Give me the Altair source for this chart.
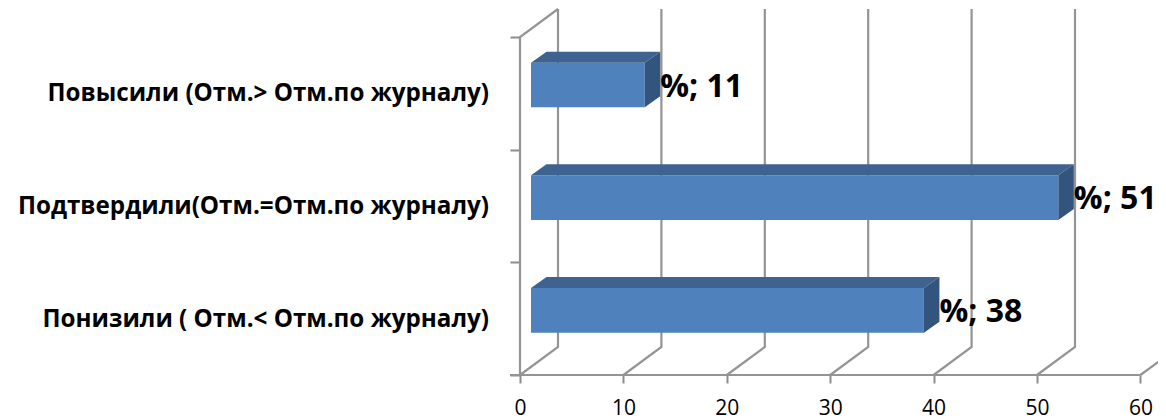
import altair as alt
import pandas as pd

categories = ["Понизили ( Отм.< Отм.по журналу)", "Подтвердили(Отм.=Отм.по журналу)", "Повысили (Отм.> Отм.по журналу)"]
values = [38, 51, 11]
data_labels = ["%; 38", "%; 51", "%; 11"]
x_ticks = [0, 10, 20, 30, 40, 50, 60]
y_ticks = [0, 1, 2, 3]

PX = 10.34       # px per value unit
PY = 112.67      # px per category band
W, H = 1150, 411
X0 = 512         # plot x of value 0
Y0 = 367         # plot y of baseline
xdom = [-X0 / PX, (W - X0) / PX]
ydom = [(Y0 - H) / PY, Y0 / PY]
xs = alt.Scale(domain=xdom, range=[0, W], nice=False, zero=False)
ys = alt.Scale(domain=ydom, range=[H, 0], nice=False, zero=False)

WALL_DX, WALL_DY = 38 / PX, 28 / PY
BAR_OFF = 11 / PX
BAR_LO, BAR_HI = 0.376, 0.772
BAR_DX, BAR_DY = 15.5 / PX, 11 / PY
WALL_TOP = 3.0 + WALL_DY

X = alt.X("x:Q", scale=xs, title=None,
          axis=alt.Axis(values=x_ticks, grid=False, domain=False, offset=Y0 - H, tickSize=8,
                        tickColor="#8c8c8c", tickWidth=2, labelFont="Open Sans", labelFontSize=21,
                        labelColor="#000000", labelPadding=14, labelFlush=False, labelOverlap=False, format="d"))
Y = alt.Y("y:Q", scale=ys, title=None,
          axis=alt.Axis(values=y_ticks, grid=False, domain=False, offset=-X0, tickSize=10,
                        tickColor="#8c8c8c", tickWidth=2, labels=False))

# wall / floor lines
rows = []
for v in x_ticks:
    rows.append(dict(g=f"g{v}", o=0, x=v, y=0))
    rows.append(dict(g=f"g{v}", o=1, x=v + WALL_DX, y=WALL_DY))
    rows.append(dict(g=f"g{v}", o=2, x=v + WALL_DX, y=WALL_TOP))
rows += [dict(g="axisx", o=0, x=-10 / PX, y=0), dict(g="axisx", o=1, x=60, y=0)]
rows += [dict(g="wall", o=0, x=0, y=0), dict(g="wall", o=1, x=0, y=3),
         dict(g="wall", o=2, x=WALL_DX, y=WALL_TOP)]
lines = alt.Chart(pd.DataFrame(rows)).mark_line(color="#949494", strokeWidth=2.2, clip=True).encode(
    x=X, y=Y, detail="g:N", order="o:Q")

# bars
front, top, side = [], [], []
for i, v in enumerate(values):
    x0, x1 = BAR_OFF, BAR_OFF + v
    lo, hi = i + BAR_LO, i + BAR_HI
    front.append(dict(x=x0, xe=x1, y=lo, ye=hi))
    for o, (ax, a, b) in enumerate([(x0, hi, hi), (x0 + BAR_DX, hi, hi + BAR_DY),
                                    (x1, hi, hi + BAR_DY), (x1 + BAR_DX, hi + BAR_DY, hi + BAR_DY)]):
        top.append(dict(b=i, x=ax, y=a, ye=b))
    side.append(dict(b=i, x=x1, y=lo, ye=hi))
    side.append(dict(b=i, x=x1 + BAR_DX, y=lo + BAR_DY, ye=hi + BAR_DY))

front_l = alt.Chart(pd.DataFrame(front)).mark_rect(color="#4f81bd").encode(x=X, x2="xe:Q", y=Y, y2="ye:Q")
top_l = alt.Chart(pd.DataFrame(top)).mark_area(color="#3e6391", orient="vertical").encode(
    x=X, y=Y, y2="ye:Q", detail="b:N")
side_l = alt.Chart(pd.DataFrame(side)).mark_area(color="#33547d", orient="vertical").encode(
    x=X, y=Y, y2="ye:Q", detail="b:N")

# data labels
dl = pd.DataFrame([dict(x=BAR_OFF + v + BAR_DX, y=i + 0.56, t=t)
                   for i, (v, t) in enumerate(zip(values, data_labels))])
dl_l = alt.Chart(dl).mark_text(font="Open Sans", fontWeight="bold", fontSize=32, align="left", baseline="middle",
                               color="#000000").encode(x=X, y=Y, text="t:N")

# category labels
cl = pd.DataFrame([dict(x=-31 / PX, y=i + 0.49, t=c) for i, c in enumerate(categories)])
cl_l = alt.Chart(cl).mark_text(font="Open Sans", fontWeight="bold", fontSize=24.2, align="right", baseline="middle",
                               color="#000000").encode(x=X, y=Y, text="t:N")

chart = alt.layer(lines, front_l, top_l, side_l, dl_l, cl_l).properties(
    width=W, height=H, padding=0, background="#ffffff", autosize=alt.AutoSizeParams(type="none")
).configure_view(strokeWidth=0)

chart.save("out.html", embed_options={"renderer": "svg", "actions": False})
